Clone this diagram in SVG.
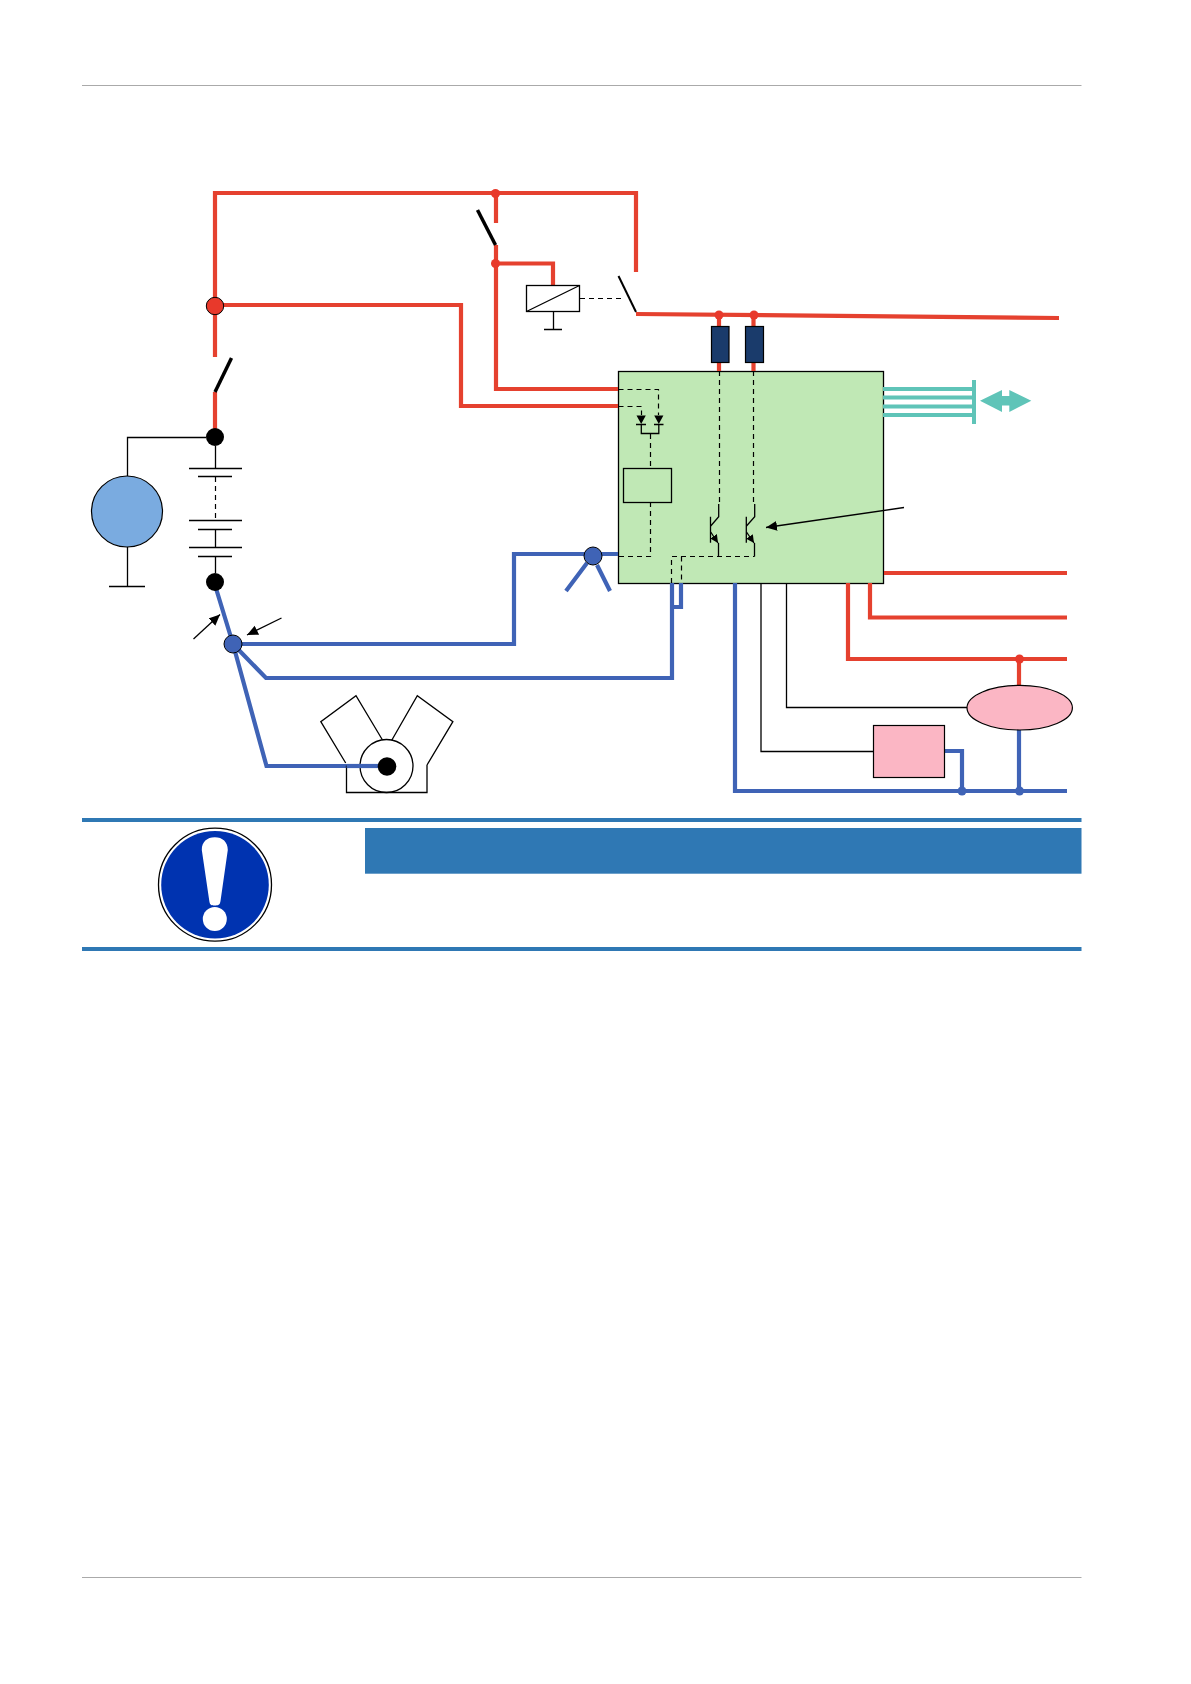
<svg xmlns="http://www.w3.org/2000/svg" width="1191" height="1684" viewBox="0 0 1191 1684">
<defs>
<marker id="ah" markerUnits="userSpaceOnUse" markerWidth="14" markerHeight="12" refX="11" refY="5" orient="auto"><path d="M0 0L11 5L0 10Z" fill="#000"/></marker>
<marker id="em" markerUnits="userSpaceOnUse" markerWidth="9" markerHeight="9" refX="8" refY="4" orient="auto"><path d="M0 0L8 4L0 8Z" fill="#000"/></marker>
</defs>
<style>
.r{fill:none;stroke:#e5412f;stroke-width:4.2}
.b{fill:none;stroke:#3f63b6;stroke-width:4.2}
.t{fill:none;stroke:#5fc4b8;stroke-width:4}
.k{fill:none;stroke:#000;stroke-width:1.3}
.d{fill:none;stroke:#000;stroke-width:1.2;stroke-dasharray:5 4}
.s{fill:none;stroke:#000;stroke-width:3.5}
.rd{fill:#e8392b}
.bd{fill:#3f63b6}
.hb{fill:#2f78b4}
</style>
<rect width="1191" height="1684" fill="#fff"/>
<g id="page-frame">
<rect x="82" y="85" width="999.500" height="1" fill="#aaa"/>
<rect x="82" y="1577" width="999.500" height="1" fill="#aaa"/>
</g>
<g id="control-unit">
<rect x="618.500" y="371.500" width="265" height="212" fill="#c0e8b5" stroke="#000" stroke-width="1.300"/>
<rect x="623.500" y="468.500" width="48" height="34" fill="none" stroke="#000" stroke-width="1.300"/>
</g>
<g id="connectors">
<path class="r" d="M215 357V193H636V272"/>
<path class="r" d="M496 193V223M496 245V389H618"/>
<path class="r" d="M496 263.500H553V285"/>
<path class="r" d="M215 305H461V406H618"/>
<path class="r" d="M215 392V437"/>
<path class="r" d="M636 314L1059 318"/>
<path class="r" d="M719 315V326M719 362V371M753.500 315V326M753.500 362V371"/>
<path class="r" d="M884 573H1067"/>
<path class="r" d="M870 583V617.500H1067"/>
<path class="r" d="M848 583V659H1067"/>
<path class="r" d="M1019 659V685"/>
<path class="b" d="M216.500 590L233 644L266.500 766H386"/>
<path class="b" d="M233 644H514V554H618"/>
<path class="b" d="M233 644L266 678H672V583"/>
<path class="b" d="M672 607H681V583"/>
<path class="b" d="M587 563L566 591M597 565L610 591"/>
<path class="b" d="M735 583V791H1067"/>
<path class="b" d="M945 751H962V791"/>
<path class="b" d="M1019 730V791"/>
<path class="k" d="M206 437.500H127.500V476"/>
<path class="k" d="M761 583V751.500H873"/>
<path class="k" d="M786.500 583V707.500H967"/>
<path class="k" d="M904 507.500L766 527.500" marker-end="url(#ah)"/>
<path class="k" d="M193.500 639L220 614.500" marker-end="url(#ah)"/>
<path class="k" d="M281.500 618L247 635" marker-end="url(#ah)"/>
<path class="d" d="M580 298.500H622"/>
<path class="d" d="M618.500 389.500H658.500V415"/>
<path class="d" d="M618.500 406.500H641.500V415"/>
<path class="d" d="M650.500 434V468M650.500 502V556.500H618.500"/>
<path class="d" d="M671.500 583V556.500H754.500M681.500 556.500V583"/>
<path class="d" d="M719.500 371V504M753.500 371V504"/>
<path class="t" d="M883 389H972M883 397.500H972M883 406.500H972M883 415H972"/>
</g>
<g id="ignition-switch"><path class="s" d="M231.500 358L215 392"/></g>
<g id="relay-contact-1"><path class="s" d="M477.500 210L495.500 245"/></g>
<g id="relay-contact-2"><path fill="none" stroke="#000" stroke-width="2" d="M618.500 276L636 312"/></g>
<g id="relay">
<rect x="526.500" y="285.500" width="53" height="26" fill="#fff" stroke="#000" stroke-width="1.300"/>
<path class="k" d="M526.500 311.500L579.500 285.500M553.500 311.500V329M544 329.500H562"/>
</g>
<g id="junctions">
<circle cx="215" cy="306" r="8.700" class="rd" stroke="#000" stroke-width="1"/>
<circle class="rd" cx="495.500" cy="193.500" r="4.500"/>
<circle class="rd" cx="495.500" cy="263.500" r="4.500"/>
<circle class="rd" cx="719" cy="315" r="4.500"/>
<circle class="rd" cx="754" cy="315" r="4.500"/>
<circle class="rd" cx="1019.500" cy="659" r="4.500"/>
<circle class="bd" cx="962" cy="791" r="4.500"/>
<circle class="bd" cx="1019.500" cy="791" r="4.500"/>
<circle cx="233" cy="644" r="9" class="bd" stroke="#000" stroke-width="1"/>
<circle cx="593" cy="556" r="9" class="bd" stroke="#000" stroke-width="1"/>
<circle cx="215" cy="437" r="9"/>
<circle cx="215" cy="582" r="9"/>
</g>
<g id="battery">
<path class="k" d="M215.500 446V468M189 468.500H242M198 476.500H232M215.500 529V547M189 520.500H242M198 529.500H232M189 547.500H242M198 556.500H232M215.500 556.500V573"/>
<path class="d" d="M215.500 477V520"/>
</g>
<g id="generator">
<path class="k" d="M127.500 547V586M109 586.500H145"/>
<circle cx="127" cy="511.500" r="35.500" fill="#7aabe0" stroke="#000" stroke-width="1.200"/>
</g>
<g id="fuse-1"><rect x="711.500" y="326.500" width="17.500" height="36" fill="#1a3b6b" stroke="#000" stroke-width="1.200"/></g>
<g id="fuse-2"><rect x="745.500" y="326.500" width="18" height="36" fill="#1a3b6b" stroke="#000" stroke-width="1.200"/></g>
<g id="diodes">
<path d="M636.500 415.500H645.800L641.200 424ZM654.200 415.500H663.400L658.800 424Z" fill="#000"/>
<path class="k" d="M636 424.500H646M654 424.500H663.500M641.300 424.500V433.500H658.800V424.500"/>
</g>
<g id="transistor-1">
<path class="k" d="M718.700 504V516.700L710.700 526M710.500 516.700V542.700"/>
<path class="k" d="M710.700 532L718 543" marker-end="url(#em)"/>
<path class="k" d="M718.500 543L718.500 556.500"/>
</g>
<g id="transistor-2">
<path class="k" d="M754.700 504V516.700L746.500 526M746.300 516.700V542.700"/>
<path class="k" d="M746.500 532L754 543" marker-end="url(#em)"/>
<path class="k" d="M754.500 543V556.500"/>
</g>
<g id="bus">
<rect x="972" y="380" width="4" height="44" fill="#5fc4b8"/>
<path d="M980 400.700L1002 390V396H1009.300V390L1031.300 400.700L1009.300 412V405.500H1002V412Z" fill="#5fc4b8"/>
</g>
<g id="lamp"><ellipse cx="1019.700" cy="707.700" rx="52.700" ry="22.300" fill="#fbb6c4" stroke="#000" stroke-width="1.200"/></g>
<g id="load"><rect x="873.500" y="725.500" width="71" height="52" fill="#fbb6c4" stroke="#000" stroke-width="1.200"/></g>
<g id="engine">
<path class="k" d="M346.500 765.500V792.500H427V765M345.700 763L320.800 721.700L356 695.700L382.500 740M391.600 740.500L417.300 695.700L452.900 721.700L427 765"/>
<circle cx="386.500" cy="766" r="26.500" fill="none" stroke="#000" stroke-width="1.300"/>
<path class="b" d="M346.500 766H378"/>
<circle cx="387" cy="766.500" r="9.300"/>
</g>
<g id="notice">
<rect class="hb" x="82" y="818" width="999.500" height="4"/>
<rect class="hb" x="82" y="947" width="999.500" height="4"/>
<rect class="hb" x="365" y="828" width="716.500" height="45.700"/>
<circle cx="215" cy="884.700" r="56.500" fill="#fff" stroke="#000" stroke-width="1.300"/>
<circle cx="215" cy="884.700" r="53.800" fill="#0033b0"/>
<path d="M201.800 850C201.800 842 207 837.300 214.800 837.300C222.500 837.300 227.800 842 227.800 850L220.500 901C220 905 218 905.500 214.800 905.500C211.500 905.500 209.800 905 209.300 901Z" fill="#fff"/>
<circle cx="214.800" cy="919" r="12" fill="#fff"/>
</g>
</svg>
